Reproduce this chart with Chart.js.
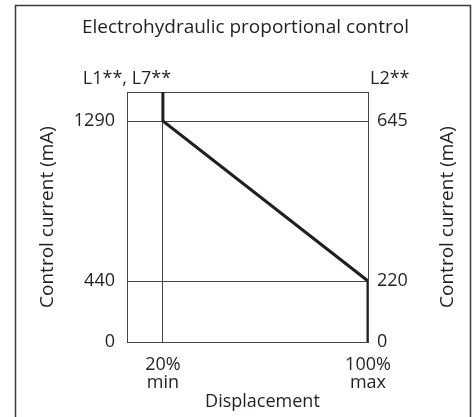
<!DOCTYPE html>
<html>
<head>
<meta charset="utf-8">
<script src="https://cdn.jsdelivr.net/npm/chart.js@4.4.1/dist/chart.umd.min.js"></script>
<style>
  html, body { margin: 0; padding: 0; background: #fff; }
  #wrap { position: relative; width: 476px; height: 417px; }
</style>
</head>
<body>
<div id="wrap"><canvas id="curve"></canvas></div>
<script>
// Displacement (%) vs control current (mA)
const displacement = [20, 20, 100, 100];
const currentL1L7 = [1450, 1290, 440, 0];

const xTicks = [20, 100];
const xTickLabels = [['20%', 'min'], ['100%', 'max']];
const leftTicks = [0, 440, 1290];   // L1**, L7**
const rightTicks = [0, 220, 645];   // L2**

// the diagram is not to scale: each current value sits at a fixed height
const leftStops = [0, 440, 1290, 1450];
const rightStops = [0, 220, 645, 725];
const stopHeights = [0, 0.244, 0.884, 1];

const INK = '#231f20';
const FONT = '"Open Sans", "Liberation Sans", sans-serif';
const Y_TITLE = 'Control current (mA)';

class SteppedScale extends Chart.LinearScale {
  static id = 'stepped';
  static defaults = Chart.LinearScale.defaults;

  toDecimal(v) {
    const s = this.options.stops;
    for (let i = 1; i < s.length; i++) {
      if (v <= s[i] || i === s.length - 1) {
        const t = (v - s[i - 1]) / (s[i] - s[i - 1]);
        return stopHeights[i - 1] + t * (stopHeights[i] - stopHeights[i - 1]);
      }
    }
    return 0;
  }
  getPixelForValue(v) {
    return this.getPixelForDecimal(this.toDecimal(v));
  }
  getValueForPixel(p) {
    const d = this.getDecimalForPixel(p);
    const s = this.options.stops;
    for (let i = 1; i < s.length; i++) {
      if (d <= stopHeights[i] || i === s.length - 1) {
        const t = (d - stopHeights[i - 1]) / (stopHeights[i] - stopHeights[i - 1]);
        return s[i - 1] + t * (s[i] - s[i - 1]);
      }
    }
    return 0;
  }
}
Chart.register(SteppedScale);

// box round the plot, frame round the figure, header labels, titles
const decorations = {
  id: 'decorations',
  beforeDatasetsDraw(chart) {
    const { ctx, chartArea: a } = chart;
    ctx.save();
    ctx.strokeStyle = '#444';
    ctx.lineWidth = 1;
    ctx.strokeRect(a.left + 0.5, a.top + 0.5, a.right - a.left, a.bottom - a.top);
    ctx.restore();
  },
  afterDraw(chart) {
    const { ctx, chartArea: a, scales } = chart;
    ctx.save();
    ctx.strokeStyle = '#3a3a3a';
    ctx.lineWidth = 1.5;
    ctx.beginPath();
    ctx.moveTo(15.5, chart.height);
    ctx.lineTo(15.5, 5.5);
    ctx.lineTo(470.5, 5.5);
    ctx.lineTo(470.5, chart.height);
    ctx.stroke();

    ctx.fillStyle = INK;
    ctx.font = '18px ' + FONT;
    ctx.textBaseline = 'alphabetic';
    ctx.textAlign = 'center';
    ctx.fillText('L1**, L7**', a.left, a.top - 8);
    ctx.textAlign = 'left';
    ctx.fillText('L2**', a.right + 2, a.top - 8);

    const x = scales.x;
    ctx.textAlign = 'center';
    ctx.fillText('Displacement', (x.getPixelForValue(xTicks[0]) + x.getPixelForValue(xTicks[1])) / 2 - 3, 407);

    // right-hand axis title reads bottom to top like the left one
    ctx.font = '19px ' + FONT;
    ctx.translate(scales.y2.right - 28, (a.top + a.bottom) / 2);
    ctx.rotate(-Math.PI / 2);
    ctx.textBaseline = 'middle';
    ctx.fillText(Y_TITLE, 0, 0);
    ctx.restore();
  }
};

const tickFont = { family: FONT, size: 18, lineHeight: 1 };
const titleFont = { family: FONT, size: 19, weight: 'normal', lineHeight: 1.2 };

new Chart(document.getElementById('curve'), {
  type: 'line',
  data: {
    datasets: [{
      data: displacement.map((d, i) => ({ x: d, y: currentL1L7[i] })),
      borderColor: INK,
      borderWidth: 3,
      pointRadius: 0,
      tension: 0,
      fill: false,
      yAxisID: 'y'
    }]
  },
  options: {
    responsive: true,
    maintainAspectRatio: false,
    animation: false,
    layout: { padding: { left: 15, right: 0, top: 0, bottom: 0 } },
    plugins: {
      legend: { display: false },
      tooltip: { enabled: false },
      title: {
        display: true,
        text: 'Electrohydraulic proportional control',
        color: INK,
        font: titleFont,
        padding: { top: 16, bottom: 53.2 }
      }
    },
    scales: {
      x: {
        type: 'linear',
        min: 6,
        max: 100,
        afterBuildTicks: s => { s.ticks = xTicks.map(v => ({ value: v })); },
        afterFit: s => { s.height = 75; },
        ticks: {
          color: INK,
          font: tickFont,
          padding: 14,
          maxRotation: 0,
          autoSkip: false,
          callback: (v, i) => xTickLabels[i]
        },
        grid: { color: '#444', lineWidth: 1, drawTicks: false },
        border: { display: false }
      },
      y: {
        type: 'stepped',
        position: 'left',
        stops: leftStops,
        min: 0,
        max: leftStops[leftStops.length - 1],
        afterBuildTicks: s => { s.ticks = leftTicks.map(v => ({ value: v })); },
        afterFit: s => { s.width = 112; },
        ticks: { color: INK, font: tickFont, padding: 12, callback: v => String(v) },
        grid: { color: '#444', lineWidth: 1, drawTicks: false },
        border: { display: false },
        title: {
          display: true,
          text: Y_TITLE,
          color: INK,
          font: titleFont,
          padding: { top: 21.6 }
        }
      },
      y2: {
        type: 'stepped',
        position: 'right',
        stops: rightStops,
        min: 0,
        max: rightStops[rightStops.length - 1],
        afterBuildTicks: s => { s.ticks = rightTicks.map(v => ({ value: v })); },
        afterFit: s => { s.width = 108; },
        ticks: { color: INK, font: tickFont, padding: 9, callback: v => String(v) },
        grid: { display: false, drawTicks: false },
        border: { display: false }
      }
    }
  },
  plugins: [decorations]
});
</script>
</body>
</html>
